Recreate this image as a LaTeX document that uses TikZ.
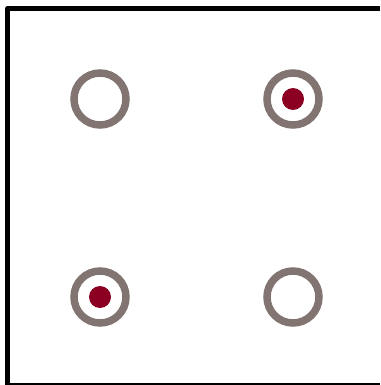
\documentclass[tikz,border=0pt]{standalone}
\definecolor{ringgray}{HTML}{827470}
\definecolor{dotred}{HTML}{8B0022}
\tikzset{
  ring/.style={circle, draw=ringgray, line width=7.5pt, fill=white, minimum size=52pt, inner sep=0pt},
  dot/.style={circle, fill=dotred, minimum size=22pt, inner sep=0pt},
  frame/.style={line width=5pt, line join=round}
}
\begin{document}
\begin{tikzpicture}[x=1pt,y=-1pt]
\useasboundingbox (0,0) rectangle (380,385);
\fill[white] (0,0) rectangle (380,385);
\coordinate (tr) at (380,8.5);
\coordinate (tl) at (7.5,8.5);
\coordinate (bl) at (7.5,385);
\coordinate (bls) at (7.5,384);
\coordinate (brs) at (380,384);
\draw[frame] (tr) -- (tl) -- (bl);
\draw[line width=1.5pt] (bls) -- (brs);
\node[ring] (r1) at (100,99) {};
\node[ring] (r2) at (293,99) {};
\node[ring] (r3) at (100,297) {};
\node[ring] (r4) at (293,297) {};
\node[dot] (d2) at (r2) {};
\node[dot] (d3) at (r3) {};
\end{tikzpicture}
\end{document}
